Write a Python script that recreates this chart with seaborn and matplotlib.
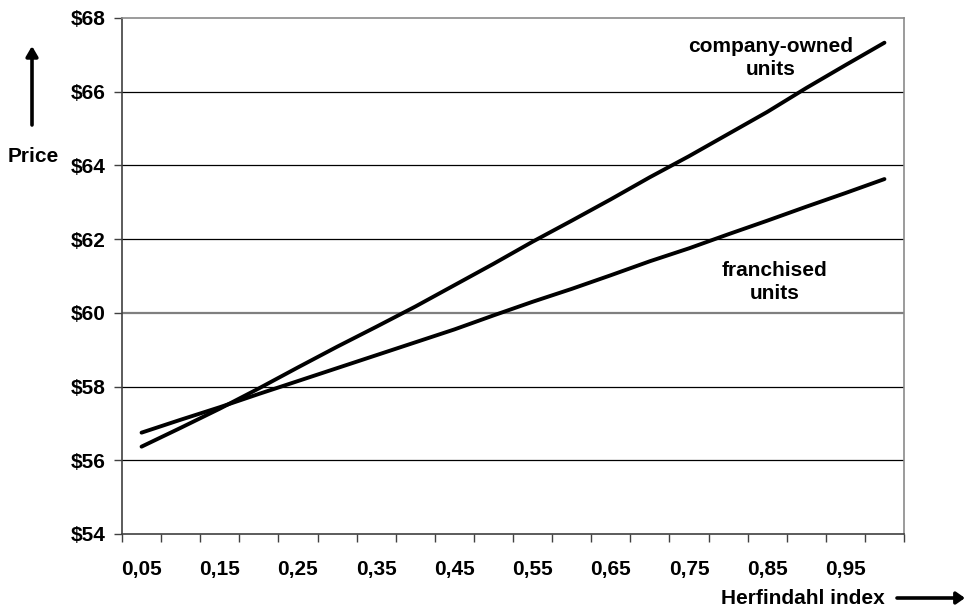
import numpy as np
import pandas as pd
import matplotlib
matplotlib.use("Agg")
import matplotlib.pyplot as plt
import seaborn as sns

# Herfindahl index categories (0,05 ... 1,00)
herfindahl = [0.05, 0.10, 0.15, 0.20, 0.25, 0.30, 0.35, 0.40, 0.45, 0.50,
              0.55, 0.60, 0.65, 0.70, 0.75, 0.80, 0.85, 0.90, 0.95, 1.00]

# Predicted price by ownership type
company_owned = [56.37, 56.88, 57.40, 57.95, 58.52, 59.08, 59.62, 60.17, 60.75, 61.33,
                 61.93, 62.50, 63.08, 63.68, 64.25, 64.85, 65.45, 66.10, 66.72, 67.33]
franchised = [56.75, 57.10, 57.44, 57.80, 58.15, 58.50, 58.85, 59.20, 59.55, 59.93,
              60.30, 60.65, 61.02, 61.40, 61.75, 62.13, 62.50, 62.88, 63.25, 63.63]

price_ticks = [54, 56, 58, 60, 62, 64, 66, 68]

sns.set_theme(style="white")
plt.rcParams["font.family"] = ["Liberation Sans", "DejaVu Sans"]
plt.rcParams["font.weight"] = "bold"
plt.rcParams["text.color"] = "black"

FS = 15

pos = np.arange(len(herfindahl))
df = pd.concat([
    pd.DataFrame({"pos": pos, "price": company_owned, "type": "company-owned units"}),
    pd.DataFrame({"pos": pos, "price": franchised, "type": "franchised units"}),
])

fig = plt.figure(figsize=(9.65, 6.14), dpi=100)
ax = fig.add_axes([122 / 965, 1 - 534 / 614, (904 - 122) / 965, (534 - 18) / 614])

sns.lineplot(data=df, x="pos", y="price", hue="type",
             palette={"company-owned units": "black", "franchised units": "black"},
             linewidth=2.8, legend=False, ax=ax, zorder=3)

# Horizontal gridlines
for v in price_ticks[1:-1]:
    ax.axhline(v, color="#7f7f7f" if v == 60 else "black",
               lw=1.6 if v == 60 else 0.9, zorder=1)

ax.set_xlim(-0.5, len(herfindahl) - 0.5)
ax.set_ylim(54, 68)

# Category axis: ticks on boundaries, labels at every other category centre
ax.set_xticks(np.arange(-0.5, len(herfindahl), 1.0))
ax.set_xticklabels([])
ax.set_xticks(pos[::2], minor=True)
ax.set_xticklabels([f"{h:.2f}".replace(".", ",") for h in herfindahl[::2]],
                   minor=True, fontsize=FS, fontweight="bold")
ax.tick_params(axis="x", which="major", direction="out", length=6, width=1,
               color="#404040", bottom=True)
ax.tick_params(axis="x", which="minor", length=0, pad=19, bottom=True,
               labelcolor="black")

ax.set_yticks(price_ticks)
ax.set_yticklabels([f"${v}" for v in price_ticks], fontsize=FS, fontweight="bold")
ax.tick_params(axis="y", direction="out", length=6, width=1, color="#404040",
               left=True, pad=6, labelcolor="black")

ax.set_xlabel("")
ax.set_ylabel("")

for side in ["left", "bottom"]:
    ax.spines[side].set_color("#404040")
    ax.spines[side].set_linewidth(1.2)
for side in ["top", "right"]:
    ax.spines[side].set_color("#8a8a8a")
    ax.spines[side].set_linewidth(1.2)

# Series labels
ax.text(16.1, 66.91, "company-owned\nunits", ha="center", va="center",
        fontsize=FS, fontweight="bold", linespacing=1.3)
ax.text(16.2, 60.84, "franchised\nunits", ha="center", va="center",
        fontsize=FS, fontweight="bold", linespacing=1.3)

# Axis titles with arrows
fig.text(33 / 965, 1 - 157 / 614, "Price", ha="center", va="center",
         fontsize=FS, fontweight="bold")
fig.add_artist(matplotlib.patches.FancyArrowPatch(
    (32 / 965, 1 - 125 / 614), (32 / 965, 1 - 46 / 614), transform=fig.transFigure,
    arrowstyle="-|>,head_length=6,head_width=3.5", color="black", lw=2.6,
    shrinkA=0, shrinkB=0))

fig.text(885 / 965, 1 - 598 / 614, "Herfindahl index", ha="right", va="center",
         fontsize=FS, fontweight="bold")
fig.add_artist(matplotlib.patches.FancyArrowPatch(
    (897 / 965, 1 - 598 / 614), (965 / 965, 1 - 598 / 614), transform=fig.transFigure,
    arrowstyle="-|>,head_length=5,head_width=3.5", color="black", lw=2.6,
    shrinkA=0, shrinkB=0))

fig.savefig("out.png", dpi=100, facecolor="white")
